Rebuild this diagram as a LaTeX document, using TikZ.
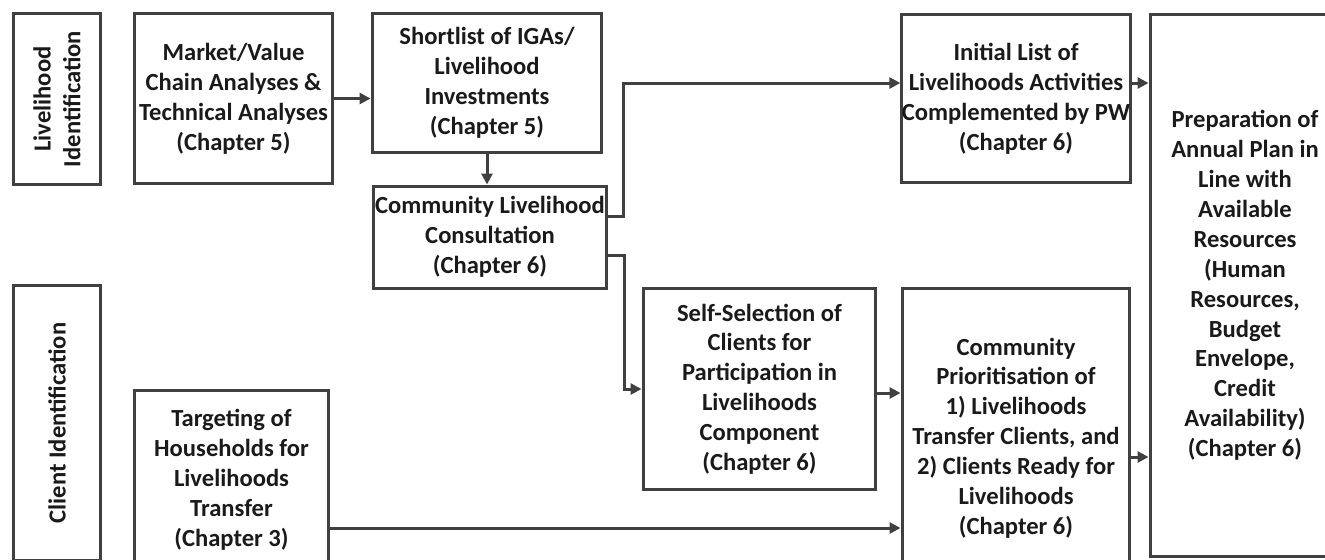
\documentclass[tikz,border=0pt]{standalone}
\usepackage{fontspec}
\usepackage{xcolor}
\usepackage{tikz}
\usetikzlibrary{arrows.meta}
\setmainfont{Carlito}
\definecolor{boxline}{HTML}{404040}
\definecolor{boxtext}{HTML}{1A1A1A}

\begin{document}
\begin{tikzpicture}[x=0.02cm,y=-0.02cm,
  box/.style={draw=boxline,line width=0.06cm,inner sep=0pt,align=center,text=boxtext,
    font=\bfseries\fontsize{14pt}{17pt}\selectfont},
  flow/.style={draw=boxline,line width=0.06cm,-{Triangle[length=0.22cm,width=0.22cm]}}]
\useasboundingbox (0,0) rectangle (1325,559);
\clip (0,0) rectangle (1325,559);

\node[box,rotate=90,minimum width=3.44cm,minimum height=1.76cm] (livid) at (57,99) {Livelihood\\Identification};
\node[box,rotate=90,minimum width=5.52cm,minimum height=1.76cm] (clientid) at (57,423) {Client Identification};

\node[box,minimum width=3.98cm,minimum height=3.42cm] (market) at (233.5,98.5) {Market/Value\\Chain Analyses \&\\Technical Analyses\\(Chapter 5)};
\node[box,minimum width=4.6cm,minimum height=2.8cm] (shortlist) at (487,83) {Shortlist of IGAs/\\Livelihood\\Investments\\(Chapter 5)};
\node[box,minimum width=4.68cm,minimum height=2.04cm] (consult) at (490,237) {Community Livelihood\\Consultation\\(Chapter 6)};
\node[box,minimum width=4.56cm,minimum height=3.38cm] (initial) at (1016,98.5) {Initial List of\\Livelihoods Activities\\Complemented by PW\\(Chapter 6)};
\node[box,minimum width=3.8cm,minimum height=10.86cm] (plan) at (1245,285.5) {Preparation of\\Annual Plan in\\Line with\\Available\\Resources\\(Human\\Resources,\\Budget\\Envelope,\\Credit\\Availability)\\(Chapter 6)};

\node[box,minimum width=3.9cm,minimum height=3.6cm] (target) at (231.5,480) {Targeting of\\Households for\\Livelihoods\\Transfer\\(Chapter 3)};
\node[box,minimum width=4.66cm,minimum height=4.04cm] (selfsel) at (759.5,389) {Self-Selection of\\Clients for\\Participation in\\Livelihoods\\Component\\(Chapter 6)};
\node[box,minimum width=4.56cm,minimum height=6cm] (prior) at (1016,438) {Community\\Prioritisation of\\1) Livelihoods\\Transfer Clients, and\\2) Clients Ready for\\Livelihoods\\(Chapter 6)};

\draw[flow] (market.east) -- (market.east -| shortlist.west);
\draw[flow] (shortlist.south) -- (shortlist.south |- consult.north);
\draw[flow] (consult.10) -- ++(15,0) |- ([yshift=0.31cm]initial.west);
\draw[flow] (consult.-9) -- ++(16,0) |- (selfsel.west);
\draw[flow] ([yshift=-0.08cm]selfsel.east) -- ([yshift=-0.08cm]selfsel.east -| prior.west);
\draw[flow] ([yshift=-0.96cm]target.east) -- ([yshift=-0.96cm]target.east -| prior.west);

\draw[flow] ([yshift=0.31cm]initial.east) -- ([yshift=0.31cm]initial.east -| plan.west);
\draw[flow] ([yshift=-0.38cm]prior.east) -- ([yshift=-0.38cm]prior.east -| plan.west);
\end{tikzpicture}
\end{document}
